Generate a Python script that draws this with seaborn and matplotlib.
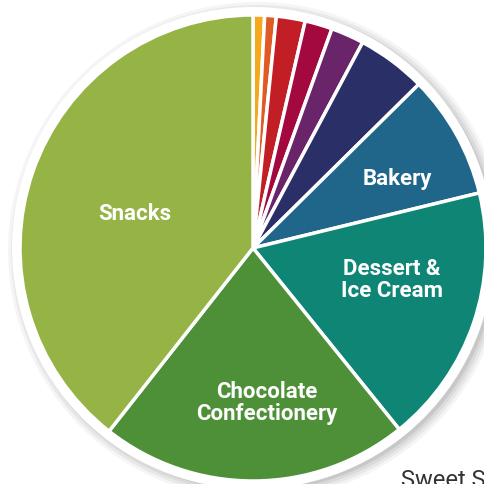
import matplotlib.pyplot as plt
import matplotlib.patches as mpatches
import seaborn as sns

# categories clockwise from 12 o'clock, share of total (%)
categories = ["", "", "", "", "", "", "Bakery", "Dessert &\nIce Cream",
              "Chocolate\nConfectionery", "Snacks"]
shares = [0.8, 0.8, 2.0, 1.9, 2.3, 4.8, 8.6, 18.0, 21.4, 39.4]
colors = ["#F6A81C", "#E05A24", "#C21E25", "#A3093E", "#6A2469",
          "#2B2F68", "#20668A", "#0E8575", "#4E9038", "#96B346"]

# label anchor points (pixels from top-left)
label_xy = {"Bakery": (397, 179), "Dessert &\nIce Cream": (392, 280),
            "Chocolate\nConfectionery": (267, 403), "Snacks": (135, 214)}

sns.set_style("white")
plt.rcParams['font.family'] = ['Roboto', 'DejaVu Sans']

W = H = 484
fig = plt.figure(figsize=(W / 100, H / 100), dpi=100)
ax = fig.add_axes([0, 0, 1, 1])

cx, cy, r = 253, H - 248, 233

# soft shadow + white rim
for i, a in enumerate([0.04, 0.05, 0.06, 0.08]):
    ax.add_patch(mpatches.Circle((cx + 4, cy - 3), r + 16 - 3 * i,
                                 color="black", alpha=a, lw=0, zorder=0))
ax.add_patch(mpatches.Circle((cx, cy), r + 8, color="white", lw=0, zorder=1))

wedges, _ = ax.pie(shares, colors=sns.color_palette(colors), center=(cx, cy),
                   radius=r, startangle=90, counterclock=False,
                   wedgeprops=dict(edgecolor="white", linewidth=2.5))
for w in wedges:
    w.set_zorder(2)

for name, (x, y) in label_xy.items():
    ax.text(x, H - y, name, color="white", fontsize=16, fontweight="bold",
            ha="center", va="center", linespacing=1.0, zorder=3)

ax.text(401, H - 487, "Sweet Spreads", color="#333333", fontsize=17,
        ha="left", va="baseline", zorder=3)

ax.set_xlim(0, W)
ax.set_ylim(0, H)
ax.set_aspect("equal")
ax.axis("off")

fig.savefig("out.png", dpi=100)
